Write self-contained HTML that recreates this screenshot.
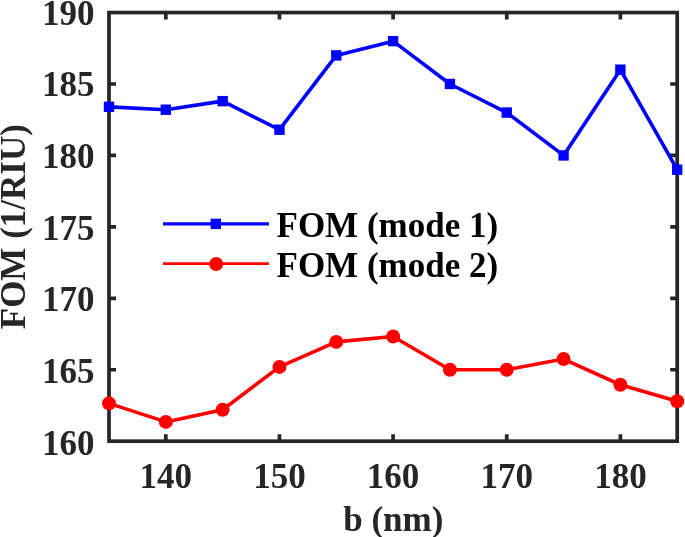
<!DOCTYPE html>
<html><head><meta charset="utf-8"><style>
html,body{margin:0;padding:0;background:#fff;}
svg{display:block;will-change:transform;}
text{font-family:"Liberation Serif",serif;font-weight:bold;}
</style></head><body>
<svg width="685" height="537" viewBox="0 0 685 537">
<rect width="685" height="537" fill="#fff"/>
<path d="M165.82 441.20V434.20M165.82 12.55V19.55M279.46 441.20V434.20M279.46 12.55V19.55M393.10 441.20V434.20M393.10 12.55V19.55M506.74 441.20V434.20M506.74 12.55V19.55M620.38 441.20V434.20M620.38 12.55V19.55M109.00 369.76H116.00M677.20 369.76H670.20M109.00 298.32H116.00M677.20 298.32H670.20M109.00 226.88H116.00M677.20 226.88H670.20M109.00 155.43H116.00M677.20 155.43H670.20M109.00 83.99H116.00M677.20 83.99H670.20" stroke="#262626" stroke-width="3.7" fill="none"/>
<rect x="109.00" y="12.55" width="568.20" height="428.65" fill="none" stroke="#262626" stroke-width="3.7"/>
<polyline points="109.00,106.85 165.82,109.71 222.64,101.14 279.46,129.71 336.28,55.42 393.10,41.13 449.92,83.99 506.74,112.57 563.56,155.43 620.38,69.70 677.20,169.72" fill="none" stroke="#0000ff" stroke-width="3.6" stroke-linejoin="round"/>
<polyline points="109.00,403.34 165.82,421.91 222.64,409.77 279.46,366.90 336.28,341.90 393.10,336.47 449.92,369.76 506.74,369.76 563.56,359.04 620.38,384.76 677.20,401.19" fill="none" stroke="#ff0000" stroke-width="3.6" stroke-linejoin="round"/>
<rect x="103.80" y="101.65" width="10.4" height="10.4" fill="#0000ff"/><rect x="160.62" y="104.51" width="10.4" height="10.4" fill="#0000ff"/><rect x="217.44" y="95.94" width="10.4" height="10.4" fill="#0000ff"/><rect x="274.26" y="124.51" width="10.4" height="10.4" fill="#0000ff"/><rect x="331.08" y="50.22" width="10.4" height="10.4" fill="#0000ff"/><rect x="387.90" y="35.93" width="10.4" height="10.4" fill="#0000ff"/><rect x="444.72" y="78.79" width="10.4" height="10.4" fill="#0000ff"/><rect x="501.54" y="107.37" width="10.4" height="10.4" fill="#0000ff"/><rect x="558.36" y="150.23" width="10.4" height="10.4" fill="#0000ff"/><rect x="615.18" y="64.50" width="10.4" height="10.4" fill="#0000ff"/><rect x="672.00" y="164.52" width="10.4" height="10.4" fill="#0000ff"/>
<circle cx="109.00" cy="403.34" r="7.0" fill="#ff0000"/><circle cx="165.82" cy="421.91" r="7.0" fill="#ff0000"/><circle cx="222.64" cy="409.77" r="7.0" fill="#ff0000"/><circle cx="279.46" cy="366.90" r="7.0" fill="#ff0000"/><circle cx="336.28" cy="341.90" r="7.0" fill="#ff0000"/><circle cx="393.10" cy="336.47" r="7.0" fill="#ff0000"/><circle cx="449.92" cy="369.76" r="7.0" fill="#ff0000"/><circle cx="506.74" cy="369.76" r="7.0" fill="#ff0000"/><circle cx="563.56" cy="359.04" r="7.0" fill="#ff0000"/><circle cx="620.38" cy="384.76" r="7.0" fill="#ff0000"/><circle cx="677.20" cy="401.19" r="7.0" fill="#ff0000"/>
<g fill="#262626" font-size="35"><text x="165.82" y="487.8" text-anchor="middle">140</text><text x="279.46" y="487.8" text-anchor="middle">150</text><text x="393.10" y="487.8" text-anchor="middle">160</text><text x="506.74" y="487.8" text-anchor="middle">170</text><text x="620.38" y="487.8" text-anchor="middle">180</text><text x="94.5" y="454.70" text-anchor="end">160</text><text x="94.5" y="383.03" text-anchor="end">165</text><text x="94.5" y="311.37" text-anchor="end">170</text><text x="94.5" y="239.70" text-anchor="end">175</text><text x="94.5" y="168.03" text-anchor="end">180</text><text x="94.5" y="96.37" text-anchor="end">185</text><text x="94.5" y="24.70" text-anchor="end">190</text><text x="393.3" y="530.6" font-size="35" text-anchor="middle">b (nm)</text><text transform="translate(24.8 226.7) rotate(-90)" font-size="35" text-anchor="middle">FOM (1/RIU)</text></g>
<path d="M163 223.8H268.9" stroke="#0000ff" stroke-width="3.2"/><rect x="210.60" y="218.70" width="10.4" height="10.4" fill="#0000ff"/><path d="M163 263.7H268.9" stroke="#ff0000" stroke-width="2.7"/><circle cx="216.2" cy="264.0" r="7.0" fill="#ff0000"/><g fill="#000" font-size="35"><text x="276.5" y="236.75">FOM (mode 1)</text><text x="276.5" y="277.4">FOM (mode 2)</text></g>
</svg>
</body></html>
